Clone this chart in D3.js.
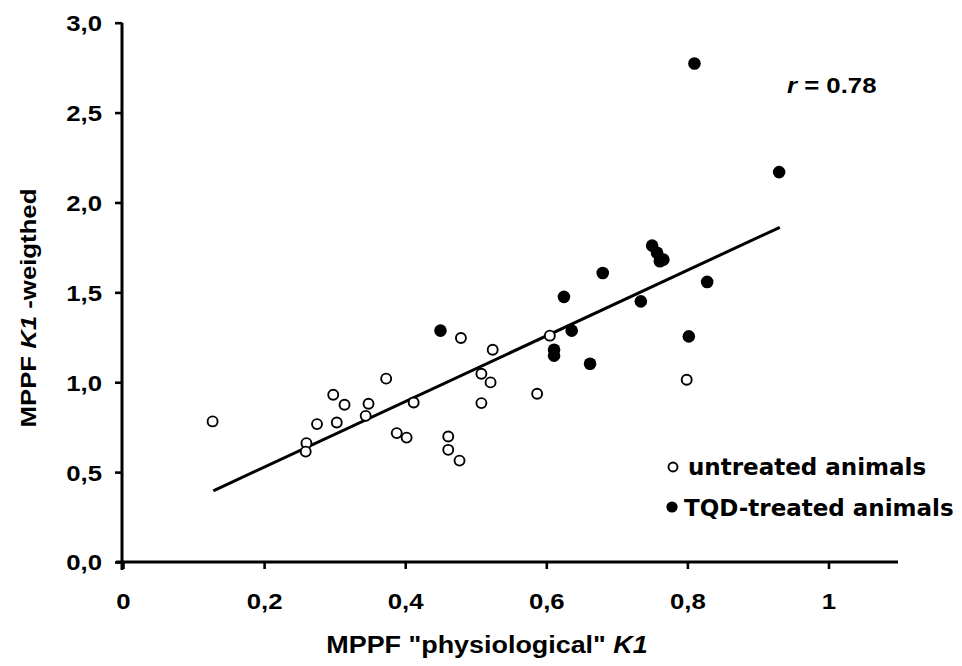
<!DOCTYPE html>
<html><head><meta charset="utf-8">
<script src="https://cdn.jsdelivr.net/npm/d3@7/dist/d3.min.js"></script>
<style>body{margin:0;background:#fff}svg{display:block}</style>
</head><body>
<svg id="c" width="962" height="666"></svg>
<script>
// untreated animals (open circles)
const untreatedX = [0.127,0.260,0.259,0.275,0.298,0.303,0.314,0.344,0.348,0.373,0.388,0.402,0.412,0.461,0.461,0.477,0.508,0.521,0.479,0.524,0.508,0.587,0.605,0.799];
const untreatedY = [0.782,0.661,0.614,0.767,0.930,0.776,0.875,0.813,0.880,1.020,0.717,0.692,0.887,0.698,0.624,0.564,0.884,0.999,1.246,1.181,1.047,0.936,1.259,1.014];
// TQD-treated animals (filled circles)
const treatedX = [0.450,0.625,0.680,0.636,0.611,0.611,0.662,0.734,0.750,0.757,0.761,0.766,0.828,0.802,0.810,0.930];
const treatedY = [1.287,1.475,1.608,1.287,1.181,1.148,1.103,1.450,1.760,1.720,1.673,1.682,1.558,1.255,2.773,2.169];
// regression line endpoints
const fitX = [0.128, 0.931];
const fitY = [0.396, 1.862];
const xTicks = [0, 0.2, 0.4, 0.6, 0.8, 1];
const xTickLabels = ["0", "0,2", "0,4", "0,6", "0,8", "1"];
const yTicks = [0, 0.5, 1.0, 1.5, 2.0, 2.5, 3.0];
const yTickLabels = ["0,0", "0,5", "1,0", "1,5", "2,0", "2,5", "3,0"];
const legendLabels = ["untreated animals", "TQD-treated animals"];
const rLabel = "0.78";

const svg = d3.select("#c");
const x = d3.scaleLinear().domain([0, 1]).range([123, 828.5]);
const y = d3.scaleLinear().domain([0, 3]).range([562, 22.7]);
const ARIAL = "'Liberation Sans', Arial, sans-serif";
const FS = 22, SX = 1.17;

// x axis
const xAxis = d3.axisBottom(x).tickValues(xTicks).tickSize(7).tickPadding(24)
  .tickFormat((d, i) => xTickLabels[i]);
const gx = svg.append("g").attr("transform", `translate(0,${y(0)})`).call(xAxis);
gx.select(".domain").attr("d", `M${x(0) - 7},0H898`).attr("stroke", "#000").attr("stroke-width", 3);
gx.selectAll(".tick line").attr("stroke", "#000").attr("stroke-width", 2.6);
gx.selectAll(".tick text").attr("font-family", ARIAL).attr("font-weight", "bold")
  .attr("font-size", FS).attr("fill", "#000").attr("transform", `scale(${SX},1)`);

// y axis
const yAxis = d3.axisLeft(y).tickValues(yTicks).tickSize(7).tickPadding(10)
  .tickFormat((d, i) => yTickLabels[i]);
const gy = svg.append("g").attr("transform", `translate(${x(0) - 1},0)`).call(yAxis);
gy.select(".domain").attr("d", `M0,${y(3)}V${y(0) + 8}`).attr("stroke", "#000").attr("stroke-width", 3);
gy.selectAll(".tick line").attr("stroke", "#000").attr("stroke-width", 2.6);
gy.selectAll(".tick text").attr("font-family", ARIAL).attr("font-weight", "bold")
  .attr("font-size", FS).attr("fill", "#000").attr("x", -20 / SX).attr("dy", "0.36em")
  .attr("transform", `scale(${SX},1)`);

// axis titles
const xt = svg.append("text").attr("transform", `translate(487,653) scale(${SX},1)`).attr("text-anchor", "middle")
  .attr("font-family", ARIAL).attr("font-weight", "bold").attr("font-size", 23);
xt.append("tspan").text('MPPF "physiological" ');
xt.append("tspan").attr("font-style", "italic").text("K1");

const yt = svg.append("text").attr("transform", `translate(36,308) rotate(-90) scale(${SX},1)`).attr("text-anchor", "middle")
  .attr("font-family", ARIAL).attr("font-weight", "bold").attr("font-size", FS);
yt.append("tspan").text("MPPF ");
yt.append("tspan").attr("font-style", "italic").text("K1");
yt.append("tspan").text(" -weigthed");

// regression line
svg.append("line")
  .attr("x1", x(fitX[0])).attr("y1", y(fitY[0]))
  .attr("x2", x(fitX[1])).attr("y2", y(fitY[1]))
  .attr("stroke", "#000").attr("stroke-width", 3);

// points
const untreated = untreatedX.map((v, i) => ({x: v, y: untreatedY[i]}));
const treated = treatedX.map((v, i) => ({x: v, y: treatedY[i]}));
svg.append("g").selectAll("circle").data(untreated).join("circle")
  .attr("cx", d => x(d.x)).attr("cy", d => y(d.y)).attr("r", 5)
  .attr("fill", "#fff").attr("stroke", "#000").attr("stroke-width", 1.9);
svg.append("g").selectAll("circle").data(treated).join("circle")
  .attr("cx", d => x(d.x)).attr("cy", d => y(d.y)).attr("r", 6.3)
  .attr("fill", "#000");

// r label
const rt = svg.append("text").attr("transform", `translate(787,93) scale(${SX},1)`)
  .attr("font-family", ARIAL).attr("font-weight", "bold").attr("font-size", FS);
rt.append("tspan").attr("font-style", "italic").text("r");
rt.append("tspan").text(" = " + rLabel);

// legend
const lg = svg.append("g");
lg.append("circle").attr("cx", 673).attr("cy", 467).attr("r", 4.5)
  .attr("fill", "#fff").attr("stroke", "#000").attr("stroke-width", 1.9);
lg.append("circle").attr("cx", 672).attr("cy", 507).attr("r", 5.6).attr("fill", "#000");
lg.selectAll("text").data(legendLabels).join("text")
  .attr("x", (d, i) => i === 0 ? 688 : 684).attr("y", (d, i) => 475 + i * 41)
  .attr("font-family", "'DejaVu Sans', Verdana, sans-serif").attr("font-weight", "bold")
  .attr("font-size", 23).text(d => d);
</script>
</body></html>
